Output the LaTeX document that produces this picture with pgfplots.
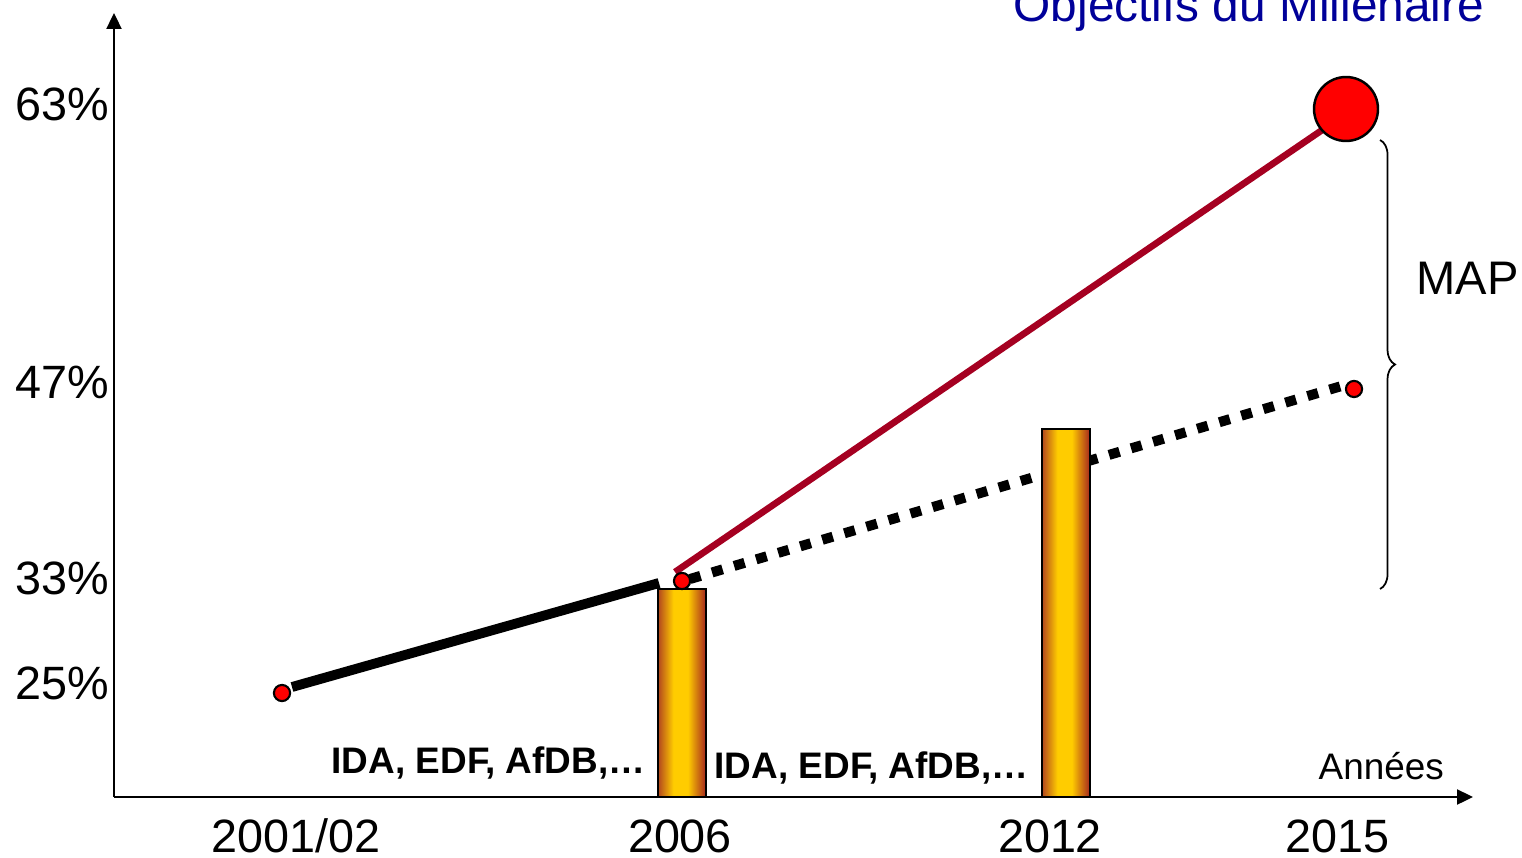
\documentclass[border=0pt]{standalone}
\usepackage{fontspec}
\setmainfont{Liberation Sans}
\usepackage{pgfplots}
\pgfplotsset{compat=1.18}
\usetikzlibrary{arrows.meta,decorations.pathreplacing}
\definecolor{titleblue}{RGB}{0,0,153}
\definecolor{mapred}{RGB}{165,0,33}
\definecolor{dotred}{RGB}{255,0,0}
\definecolor{baredgeL}{RGB}{178,70,30}
\definecolor{baredgeR}{RGB}{165,38,30}
\definecolor{baryel}{RGB}{255,204,0}
\pgfdeclarehorizontalshading{barshade}{100bp}{color(0bp)=(baredgeL); color(25bp)=(baredgeL); color(41bp)=(baryel); color(56bp)=(baryel); color(75bp)=(baredgeR); color(100bp)=(baredgeR)}
\begin{document}
\begin{tikzpicture}
\useasboundingbox (0,0) rectangle (152.2mm,85.7mm);
\begin{axis}[
  at={(11.4mm,6mm)}, anchor=south west,
  scale only axis, width=135.9mm, height=78.4mm,
  xmin=114, xmax=1473, ymin=0, ymax=784,
  axis lines=left,
  axis line style={line width=0.65pt, -{Triangle[length=1.6mm,width=1.5mm]}},
  major tick length=0pt,
  xtick={296,680,1050,1337},
  xticklabels={2001/02,2006,2012,2015},
  ytick={114,219,415,693},
  yticklabels={25\%,33\%,47\%,63\%},
  tick label style={font=\fontsize{13.3}{16}\selectfont},
  xticklabel style={anchor=base, yshift=-5.5mm},
  yticklabel style={anchor=east, inner sep=0pt, xshift=-0.4mm},
  clip=false,
  barstyle/.style={ybar, bar width=4.8mm, bar shift=0pt, draw=black, line width=0.6pt,
    shade, shading=barshade},
]
% dotted projection
\addplot[black, line width=1mm, dash pattern=on 1.1mm off 1.2mm]
  coordinates {(690,218) (1345,412)};
% bars (one per plot so each is shaded on its own)
\addplot[barstyle] coordinates {(682,208)};
\addplot[barstyle] coordinates {(1066,368)};
% observed trend
\addplot[black, line width=2.8pt] coordinates {(292,110) (659,214)};
% MAP line
\addplot[mapred, line width=1.9pt] coordinates {(675,225) (1328,671)};
% dots
\addplot[only marks, mark=*, mark size=2.3pt, mark options={fill=dotred, draw=black, line width=0.6pt}]
  coordinates {(282,104) (682,216) (1354,408)};
\addplot[only marks, mark=*, mark size=9.1pt, mark options={fill=dotred, draw=black, line width=0.7pt}]
  coordinates {(1346,688)};
\end{axis}
\begin{scope}[x=0.1mm,y=0.1mm]
\node[anchor=base west, inner sep=0pt, text=titleblue, font=\fontsize{13.6}{16}\selectfont] at (1013,835) {Objectifs du Millénaire};
\node[anchor=base west, inner sep=0pt, font=\fontsize{13.4}{16}\selectfont] at (1416,562) {MAP};
\node[anchor=base west, inner sep=0pt, font=\bfseries\fontsize{10.5}{12}\selectfont] at (331,84) {IDA, EDF, AfDB,…};
\node[anchor=base west, inner sep=0pt, font=\bfseries\fontsize{10.5}{12}\selectfont] at (714,79) {IDA, EDF, AfDB,…};
\node[anchor=base west, inner sep=0pt, font=\fontsize{10.5}{12}\selectfont] at (1318,78) {Années};
\draw[line width=0.5pt, decorate, decoration={brace, amplitude=1.5mm}] (1380,717) -- (1380,268);
\end{scope}
\end{tikzpicture}
\end{document}
